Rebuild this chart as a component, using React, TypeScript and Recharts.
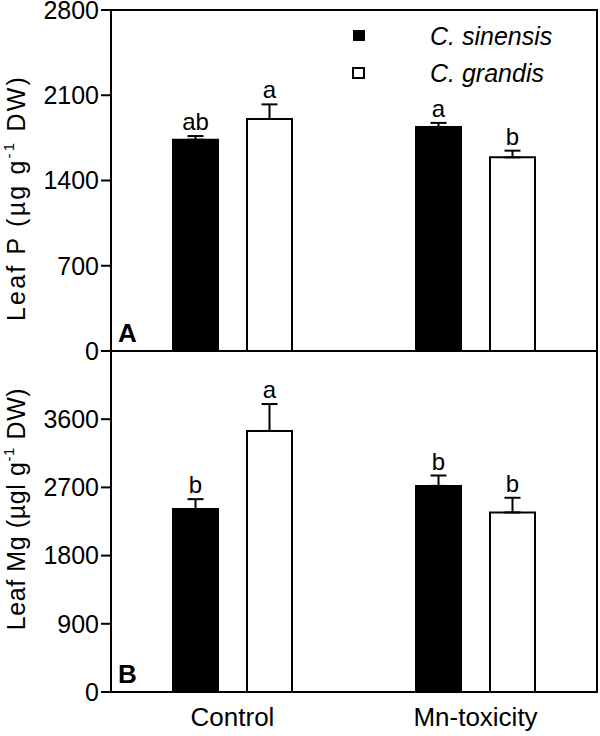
import React from 'react';
import { BarChart, Bar, XAxis, YAxis, ErrorBar, LabelList, ReferenceArea } from 'recharts';

const groups = ['Control', 'Mn-toxicity'];

// Panel A: leaf P
const leafPSinensis = [1735, 1840];
const leafPSinensisErr = [30, 33];
const leafPSinensisLetters = ['ab', 'a'];
const leafPGrandis = [1905, 1590];
const leafPGrandisErr = [120, 55];
const leafPGrandisLetters = ['a', 'b'];
const leafPTicks = [0, 700, 1400, 2100, 2800];
const leafPMax = 2800;

// Panel B: leaf Mg
const leafMgSinensis = [2415, 2720];
const leafMgSinensisErr = [130, 137];
const leafMgSinensisLetters = ['b', 'b'];
const leafMgGrandis = [3445, 2370];
const leafMgGrandisErr = [355, 193];
const leafMgGrandisLetters = ['a', 'b'];
const leafMgTicks = [0, 900, 1800, 2700, 3600];
const leafMgMax = 4500;

const FONT = '"Liberation Sans", Arial, sans-serif';

const buildRows = (s: number[], sErr: number[], sLet: string[], g: number[], gErr: number[], gLet: string[]) =>
  groups.map((name, i) => ({
    name,
    sinensis: s[i],
    sinensisErr: [0, sErr[i]],
    sinensisLetter: sLet[i],
    grandis: g[i],
    grandisErr: [0, gErr[i]],
    grandisLetter: gLet[i],
  }));

const leafPData = buildRows(leafPSinensis, leafPSinensisErr, leafPSinensisLetters, leafPGrandis, leafPGrandisErr, leafPGrandisLetters);
const leafMgData = buildRows(leafMgSinensis, leafMgSinensisErr, leafMgSinensisLetters, leafMgGrandis, leafMgGrandisErr, leafMgGrandisLetters);

// letter above the error bar, pixel height of the error taken from the bar's own scale
const letterLabel = (values: number[], errs: number[]) => (props: any) => {
  const { x, y, width, height, value, index } = props;
  const pxPerUnit = height / values[index];
  const top = y - errs[index] * pxPerUnit;
  return (
    <text x={x + width / 2} y={top - 6} textAnchor="middle" fontSize={24} fontFamily={FONT} fill="#000">
      {value}
    </text>
  );
};

const yTitle = (before: string, after: string, panel: string, centerY: number, spacing: number) => (props: any) => {
  const { viewBox } = props;
  return (
    <g>
      <text
        transform={`translate(25,${centerY}) rotate(-90)`}
        textAnchor="middle"
        fontSize={25}
        letterSpacing={spacing}
        fontFamily={FONT}
        fill="#000"
      >
        <tspan>{before}</tspan>
        <tspan fontSize={15} dy={-11}>-1</tspan>
        <tspan dy={11}>{after}</tspan>
      </text>
      <text
        x={viewBox.x + viewBox.width + 7}
        y={viewBox.y + viewBox.height - 9}
        fontSize={26}
        fontWeight="bold"
        fontFamily={FONT}
        fill="#000"
      >
        {panel}
      </text>
    </g>
  );
};

const axisLine = { stroke: '#000', strokeWidth: 2 };
const yTickStyle = { fontSize: 25, fontFamily: FONT, fill: '#000' };
const xTickStyle = { fontSize: 26, fontFamily: FONT, fill: '#000' };

const Panel = ({
  data, ticks, max, height, margin, xHeight, showX, sVals, sErrs, gVals, gErrs, title, titleY, titleSpacing, panel,
}: any) => (
  <BarChart width={600} height={height} data={data} margin={margin} barSize={45} barGap={29}>
    <XAxis
      dataKey="name"
      height={xHeight}
      axisLine={axisLine}
      tickLine={false}
      tick={showX ? xTickStyle : false}
      tickMargin={10}
    />
    <YAxis
      domain={[0, max]}
      ticks={ticks}
      width={111}
      axisLine={axisLine}
      tickLine={{ stroke: '#000', strokeWidth: 2 }}
      tickSize={10}
      tick={yTickStyle}
      interval={0}
      label={{ content: yTitle(title[0], title[1], panel, titleY, titleSpacing) }}
    />
    <ReferenceArea y1={0} y2={max} fill="none" stroke="#000" strokeWidth={2} ifOverflow="visible" />
    <Bar dataKey="sinensis" fill="#000" stroke="#000" strokeWidth={2} isAnimationActive={false}>
      <ErrorBar dataKey="sinensisErr" width={8} stroke="#000" strokeWidth={2} direction="y" />
      <LabelList dataKey="sinensisLetter" content={letterLabel(sVals, sErrs)} />
    </Bar>
    <Bar dataKey="grandis" fill="#fff" stroke="#000" strokeWidth={2} isAnimationActive={false}>
      <ErrorBar dataKey="grandisErr" width={8} stroke="#000" strokeWidth={2} direction="y" />
      <LabelList dataKey="grandisLetter" content={letterLabel(gVals, gErrs)} />
    </Bar>
  </BarChart>
);

export default function App() {
  return (
    <div style={{ position: 'absolute', left: 0, top: 0, width: 600, height: 736, background: '#fff' }}>
      <div style={{ position: 'absolute', left: 0, top: 0 }}>
        <Panel
          data={leafPData}
          ticks={leafPTicks}
          max={leafPMax}
          height={372}
          margin={{ top: 10, right: 3, bottom: 21, left: 0 }}
          xHeight={0}
          showX={false}
          sVals={leafPSinensis}
          sErrs={leafPSinensisErr}
          gVals={leafPGrandis}
          gErrs={leafPGrandisErr}
          title={['Leaf P (µg g', ' DW)']}
          titleY={198}
          titleSpacing={2.2}
          panel="A"
        />
      </div>
      <div style={{ position: 'absolute', left: 0, top: 351 }}>
        <Panel
          data={leafMgData}
          ticks={leafMgTicks}
          max={leafMgMax}
          height={385}
          margin={{ top: 0, right: 3, bottom: 0, left: 0 }}
          xHeight={44}
          showX={true}
          sVals={leafMgSinensis}
          sErrs={leafMgSinensisErr}
          gVals={leafMgGrandis}
          gErrs={leafMgGrandisErr}
          title={['Leaf Mg (µgl g', ' DW)']}
          titleY={158}
          titleSpacing={0.6}
          panel="B"
        />
      </div>
      <svg style={{ position: 'absolute', left: 0, top: 0 }} width={600} height={100}>
        <rect x={353} y={30} width={12} height={11} fill="#000" />
        <rect x={353} y={68} width={11} height={10} fill="#fff" stroke="#000" strokeWidth={2} />
        <text x={430} y={45} fontSize={25} fontStyle="italic" fontFamily={FONT} fill="#000">C. sinensis</text>
        <text x={430} y={82} fontSize={25} fontStyle="italic" fontFamily={FONT} fill="#000">C. grandis</text>
      </svg>
    </div>
  );
}
